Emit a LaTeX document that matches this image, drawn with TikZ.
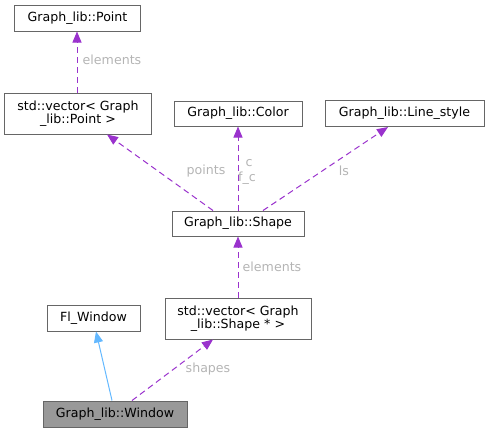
\documentclass[tikz,border=0pt]{standalone}
\usepackage{fontspec}
\setmainfont{DejaVu Sans}
\usepackage{tikz}
\usetikzlibrary{arrows.meta}
\definecolor{boxGrey}{HTML}{666666}
\definecolor{curGrey}{HTML}{999999}
\definecolor{usePurple}{HTML}{9A32CD}
\definecolor{inhBlue}{HTML}{63B8FF}
\definecolor{lblGrey}{HTML}{B4B4B4}
\tikzset{
  cls/.style  = {draw=boxGrey, fill=white, line width=1bp, align=center,
                 font=\fontsize{12.6bp}{13.5bp}\selectfont, inner sep=0pt},
  cur/.style  = {fill=curGrey},
  use/.style  = {-{Triangle[length=11bp, width=9bp]}, draw=usePurple, line width=1bp,
                 dash pattern=on 6bp off 4bp},
  inh/.style  = {-{Triangle[length=11bp, width=9bp]}, draw=inhBlue, line width=1bp},
  lbl/.style  = {font=\fontsize{12.6bp}{14bp}\selectfont, text=lblGrey, inner sep=0pt}
}
\begin{document}
\begin{tikzpicture}[x=1bp, y=-1bp]
  \useasboundingbox (0,0) rectangle (489,432);
  % classes
  \node[cls, minimum width=125bp, minimum height=26bp] (point) at (77.5,18) {Graph\_lib::Point};
  \node[cls, minimum width=146bp, minimum height=41bp] (vpoint) at (78,113.5)
    {std::vector< Graph\\ \_lib::Point >};
  \node[cls, minimum width=128bp, minimum height=25bp] (color) at (238,113.5) {Graph\_lib::Color};
  \node[cls, minimum width=159bp, minimum height=26bp] (lstyle) at (404.5,113.5) {Graph\_lib::Line\_style};
  \node[cls, minimum width=132bp, minimum height=25bp] (shape) at (238,223.5) {Graph\_lib::Shape};
  \node[cls, minimum width=93bp, minimum height=26bp] (flwin) at (93.5,318) {Fl\_Window};
  \node[cls, minimum width=146bp, minimum height=41bp] (vshape) at (238,318.5)
    {std::vector< Graph\\ \_lib::Shape * >};
  \node[cls, cur, minimum width=144bp, minimum height=26bp] (win) at (115,414) {Graph\_lib::Window};
  % members
  \draw[use] ([xshift=-0.5bp]vpoint.north -| point.south) -- ([xshift=-0.5bp]point.south);
  \draw[use] ([xshift=-25bp]shape.north) -- ([xshift=29bp]vpoint.south);
  \draw[use] (shape.north) -- (color.south);
  \draw[use] ([xshift=25bp]shape.north) -- ([xshift=-16.5bp]lstyle.south);
  \draw[use] (vshape.north) -- (shape.south);
  \draw[use] ([xshift=17bp]win.north) -- ([xshift=-25bp]vshape.south);
  \draw[inh] ([xshift=-3bp]win.north) -- ([xshift=2.5bp]flwin.south);
  % labels
  \node[lbl] (lelem1) at (112,60) {elements};
  \node[lbl] (lpoints) at (206,171) {points};
  \node[lbl] (lc) at (249,163) {c};
  \node[lbl] (lfc) at (247,178) {f\_c};
  \node[lbl] (lls) at (344,171) {ls};
  \node[lbl] (lelem2) at (272,267) {elements};
  \node[lbl] (lshapes) at (208,369) {shapes};
\end{tikzpicture}
\end{document}
